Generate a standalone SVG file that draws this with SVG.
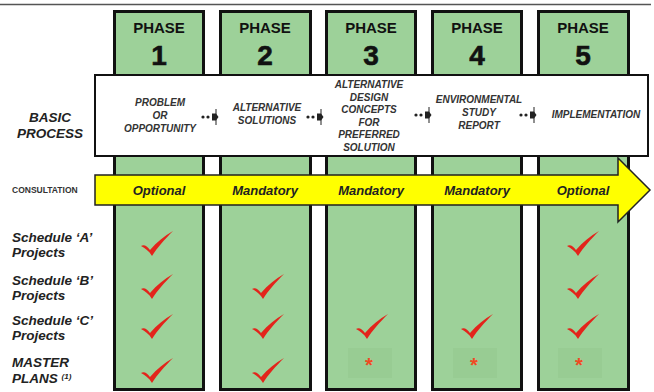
<svg xmlns="http://www.w3.org/2000/svg" width="654" height="392" viewBox="0 0 654 392">
<style>
  .col { fill: #9dd199; stroke: #111; stroke-width: 3; }
  .phase { font-family: "Liberation Sans", Arial, sans-serif; font-weight: 900; font-size: 15px; fill: #111; text-anchor: middle; }
  .num { font-family: "Liberation Sans", Arial, sans-serif; font-weight: 900; font-size: 28px; fill: #111; text-anchor: middle; stroke: #111; stroke-width: 0.6; }
  .bp { font-family: "Liberation Sans", Arial, sans-serif; font-weight: bold; font-style: italic; font-size: 10px; fill: #333; text-anchor: middle; }
  .lbl { font-family: "Liberation Sans", Arial, sans-serif; font-weight: bold; font-style: italic; font-size: 13.5px; fill: #222; }
  .cons { font-family: "Liberation Sans", Arial, sans-serif; font-weight: bold; font-style: italic; font-size: 13px; fill: #222; text-anchor: middle; }
  .small { font-family: "Liberation Sans", Arial, sans-serif; font-weight: bold; font-size: 8.5px; fill: #333; }
  .chk { fill: #e3241b; }
  .ast { font-family: "Liberation Sans", Arial, sans-serif; font-weight: bold; font-size: 20px; fill: #f04a23; text-anchor: middle; }
  .astbg { fill: #98cc93; }
  .conn { fill: #222; }
</style>
<defs>
  <path id="check" d="M-10,-8 C-7,-10 -4,-8 -1,-4 C6,-12 13,-18 22,-23 C14,-15 6,-6 1,2 C-2,-3 -6,-6 -10,-8 Z"/>
  <g id="step">
    <circle cx="0" cy="0" r="1.6"/>
    <circle cx="5" cy="0" r="1.6"/>
    <path d="M9,-3.5 L13,-3.5 L15.5,0 L13,3.5 L9,3.5 Z"/>
    <rect x="12.5" y="-8" width="1" height="16"/>
  </g>
</defs>

<line x1="0" y1="4.5" x2="651" y2="4.5" stroke="#555" stroke-width="1.5"/>

<g id="phase1">
  <rect class="col" x="114.5" y="11.5" width="89" height="378"/>
  <text class="phase" x="159" y="33">PHASE</text>
  <text class="num" x="159" y="65">1</text>
</g>
<g id="phase2">
  <rect class="col" x="220.5" y="11.5" width="90" height="378"/>
  <text class="phase" x="265" y="33">PHASE</text>
  <text class="num" x="265" y="65">2</text>
</g>
<g id="phase3">
  <rect class="col" x="326.5" y="11.5" width="89" height="378"/>
  <text class="phase" x="371" y="33">PHASE</text>
  <text class="num" x="371" y="65">3</text>
</g>
<g id="phase4">
  <rect class="col" x="432.5" y="11.5" width="89" height="378"/>
  <text class="phase" x="477" y="33">PHASE</text>
  <text class="num" x="477" y="65">4</text>
</g>
<g id="phase5">
  <rect class="col" x="538.5" y="11.5" width="90" height="378"/>
  <text class="phase" x="583" y="33">PHASE</text>
  <text class="num" x="583" y="65">5</text>
</g>

<g id="basic-process">
  <rect x="95" y="75" width="553" height="81" fill="#fff" stroke="#111" stroke-width="2"/>
  <text class="lbl" x="50" y="122" text-anchor="middle">BASIC</text>
  <text class="lbl" x="50" y="138" text-anchor="middle">PROCESS</text>
  <text class="bp" x="160" y="106">PROBLEM</text>
  <text class="bp" x="160" y="119">OR</text>
  <text class="bp" x="160" y="131.5">OPPORTUNITY</text>
  <text class="bp" x="267" y="111">ALTERNATIVE</text>
  <text class="bp" x="267" y="124">SOLUTIONS</text>
  <text class="bp" x="369" y="88">ALTERNATIVE</text>
  <text class="bp" x="369" y="100.5">DESIGN</text>
  <text class="bp" x="369" y="113">CONCEPTS</text>
  <text class="bp" x="369" y="125.5">FOR</text>
  <text class="bp" x="369" y="138">PREFERRED</text>
  <text class="bp" x="369" y="150.5">SOLUTION</text>
  <text class="bp" x="479" y="103">ENVIRONMENTAL</text>
  <text class="bp" x="479" y="116">STUDY</text>
  <text class="bp" x="479" y="129">REPORT</text>
  <text class="bp" x="596" y="118">IMPLEMENTATION</text>
</g>

<g id="connectors" class="conn">
  <use href="#step" x="203" y="117"/>
  <use href="#step" x="308" y="117"/>
  <use href="#step" x="416" y="115"/>
  <use href="#step" x="521" y="115"/>
</g>

<g id="consultation">
  <polygon points="95,175 618,175 618,158 650,190 618,222 618,205 95,205" fill="#ffff00" stroke="#222" stroke-width="1.5"/>
  <text class="small" x="12" y="193">CONSULTATION</text>
  <text class="cons" x="159" y="194.5">Optional</text>
  <text class="cons" x="265" y="194.5">Mandatory</text>
  <text class="cons" x="371" y="194.5">Mandatory</text>
  <text class="cons" x="477" y="194.5">Mandatory</text>
  <text class="cons" x="583" y="194.5">Optional</text>
</g>

<g id="row-labels">
  <text class="lbl" x="12" y="242">Schedule ‘A’</text>
  <text class="lbl" x="12" y="256.5">Projects</text>
  <text class="lbl" x="12" y="285">Schedule ‘B’</text>
  <text class="lbl" x="12" y="299.5">Projects</text>
  <text class="lbl" x="12" y="325">Schedule ‘C’</text>
  <text class="lbl" x="12" y="339.5">Projects</text>
  <text class="lbl" x="12" y="367">MASTER</text>
  <text class="lbl" x="12" y="382.5">PLANS <tspan font-size="8" dy="-4">(1)</tspan></text>
</g>

<g id="checks" class="chk">
  <use href="#check" x="151" y="254"/>
  <use href="#check" x="151" y="297"/>
  <use href="#check" x="151" y="337"/>
  <use href="#check" x="151" y="381"/>
  <use href="#check" x="262" y="297"/>
  <use href="#check" x="262" y="337"/>
  <use href="#check" x="262" y="381"/>
  <use href="#check" x="366" y="337"/>
  <use href="#check" x="471" y="337"/>
  <use href="#check" x="577" y="254"/>
  <use href="#check" x="577" y="297"/>
  <use href="#check" x="577" y="337"/>
</g>

<g id="asterisks">
  <rect class="astbg" x="348" y="348" width="44" height="30"/>
  <rect class="astbg" x="453" y="348" width="44" height="30"/>
  <rect class="astbg" x="558" y="348" width="44" height="30"/>
  <text class="ast" x="369" y="372">*</text>
  <text class="ast" x="474" y="372">*</text>
  <text class="ast" x="579" y="372">*</text>
</g>
</svg>
